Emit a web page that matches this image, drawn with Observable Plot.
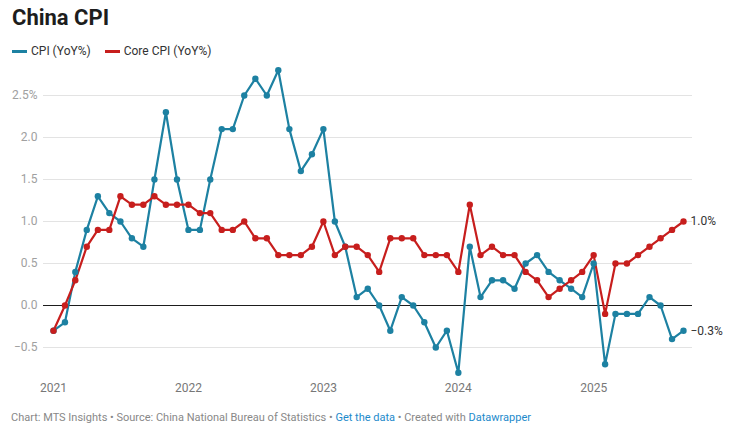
<!DOCTYPE html>
<html>
<head>
<meta charset="utf-8">
<script src="https://cdn.jsdelivr.net/npm/d3@7"></script>
<script src="https://cdn.jsdelivr.net/npm/@observablehq/plot@0.6"></script>
<style>
  body { margin: 0; background: #fff; font-family: Roboto, "Noto Sans", sans-serif; width: 737px; height: 431px; overflow: hidden; position: relative; }
  #title { position: absolute; left: 12px; top: 5px; font-size: 22px; font-weight: 700; color: #1d1d1d; }
  #legend { position: absolute; left: 12px; top: 44px; font-size: 12px; color: #333; display: flex; gap: 14px; }
  #legend span.item { display: flex; align-items: center; }
  #legend span.sw { display: inline-block; width: 15px; height: 3px; margin-right: 4px; }
  #chart { position: absolute; left: 0; top: 62px; }
  #footer { position: absolute; left: 11px; top: 411px; font-size: 11px; color: #888; }
  #footer a { color: #1d8acb; text-decoration: none; }
</style>
</head>
<body>
<div id="title">China CPI</div>
<div id="legend">
  <span class="item"><span class="sw" style="background:#1d81a2"></span>CPI (YoY%)</span>
  <span class="item"><span class="sw" style="background:#c71e1d"></span>Core CPI (YoY%)</span>
</div>
<div id="chart"></div>
<div id="footer">Chart: MTS Insights • Source: China National Bureau of Statistics • <a>Get the data</a> • Created with <a>Datawrapper</a></div>
<script>
const months = d3.timeMonths(new Date(2021, 0, 1), new Date(2025, 9, 1));
const cpi = [
  -0.3, -0.2, 0.4, 0.9, 1.3, 1.1, 1.0, 0.8, 0.7, 1.5, 2.3, 1.5,
  0.9, 0.9, 1.5, 2.1, 2.1, 2.5, 2.7, 2.5, 2.8, 2.1, 1.6, 1.8,
  2.1, 1.0, 0.7, 0.1, 0.2, 0.0, -0.3, 0.1, 0.0, -0.2, -0.5, -0.3,
  -0.8, 0.7, 0.1, 0.3, 0.3, 0.2, 0.5, 0.6, 0.4, 0.3, 0.2, 0.1,
  0.5, -0.7, -0.1, -0.1, -0.1, 0.1, 0.0, -0.4, -0.3
];
const core = [
  -0.3, 0.0, 0.3, 0.7, 0.9, 0.9, 1.3, 1.2, 1.2, 1.3, 1.2, 1.2,
  1.2, 1.1, 1.1, 0.9, 0.9, 1.0, 0.8, 0.8, 0.6, 0.6, 0.6, 0.7,
  1.0, 0.6, 0.7, 0.7, 0.6, 0.4, 0.8, 0.8, 0.8, 0.6, 0.6, 0.6,
  0.4, 1.2, 0.6, 0.7, 0.6, 0.6, 0.4, 0.3, 0.1, 0.2, 0.3, 0.4,
  0.6, -0.1, 0.5, 0.5, 0.6, 0.7, 0.8, 0.9, 1.0
];
const yTicks = [-0.5, 0, 0.5, 1.0, 1.5, 2.0, 2.5];
const xTicks = [2021, 2022, 2023, 2024, 2025].map(y => new Date(y, 0, 1));
const seriesNames = ["CPI (YoY%)", "Core CPI (YoY%)"];
const colors = ["#1d81a2", "#c71e1d"];

const data = [];
months.forEach((d, i) => {
  data.push({date: d, value: cpi[i], series: seriesNames[0]});
  data.push({date: d, value: core[i], series: seriesNames[1]});
});
const last = [
  {date: months[months.length - 1], value: cpi[cpi.length - 1], series: seriesNames[0]},
  {date: months[months.length - 1], value: core[core.length - 1], series: seriesNames[1]}
];
const fmt = v => (v < 0 ? "\u2212" : "") + Math.abs(v).toFixed(1);

const chart = Plot.plot({
  width: 737,
  height: 336,
  marginLeft: 43,
  marginRight: 45,
  marginTop: 0,
  marginBottom: 22,
  style: {fontFamily: "Roboto, sans-serif", background: "transparent", overflow: "visible"},
  x: {type: "time", domain: [months[0], months[months.length - 1]], range: [53, 683]},
  y: {domain: [-0.5, 2.5], range: [285, 33]},
  color: {domain: seriesNames, range: colors},
  marks: [
    Plot.ruleY(yTicks.filter(t => t !== 0), {stroke: "#e3e3e3", strokeWidth: 1}),
    Plot.ruleY([0], {stroke: "#1d1d1d", strokeWidth: 1.2}),
    Plot.axisY({ticks: yTicks, tickSize: 0, tickPadding: 6, fontSize: 12, fill: "#a0a0a0", label: null,
      tickFormat: d => d === 2.5 ? "2.5%" : fmt(d)}),
    Plot.axisX({ticks: xTicks, tickSize: 0, tickPadding: 7, fontSize: 12, fill: "#777",
      tickFormat: d => d3.timeFormat("%Y")(d), label: null}),
    Plot.line(data, {x: "date", y: "value", z: "series", stroke: "series", strokeWidth: 2.2, curve: "linear"}),
    Plot.dot(data, {x: "date", y: "value", fill: "series", r: 3.2, stroke: "none"}),
    Plot.text(last, {x: "date", y: "value", text: d => fmt(d.value) + "%", dx: 7, textAnchor: "start",
      fontSize: 12, fill: "#333"})
  ]
});
document.getElementById("chart").appendChild(chart);
</script>
</body>
</html>
